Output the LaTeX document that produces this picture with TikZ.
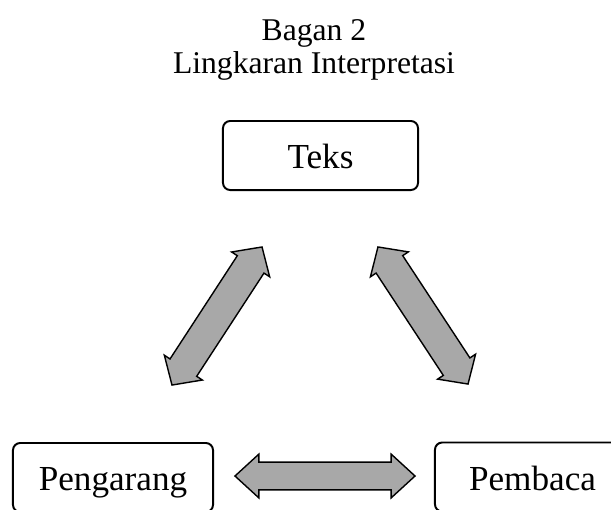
\documentclass[tikz,border=0pt]{standalone}
\usepackage{fontspec}
\setmainfont{Liberation Serif}
\usepackage{xcolor}
\usepackage{tikz}
\usetikzlibrary{shapes.arrows}

\definecolor{arrowgray}{RGB}{168,168,168}

\begin{document}
\begin{tikzpicture}[
  x=0.025cm, y=-0.025cm,
  judul/.style={anchor=base, font=\fontsize{22.5}{27}\selectfont},
  kotak/.style={draw, line width=1.4pt, rounded corners=0.18cm,
    minimum height=1.725cm, text height=19pt, text depth=0pt,
    font=\fontsize{25}{30}\selectfont},
  panah/.style={double arrow, draw, fill=arrowgray, line width=1pt,
    inner xsep=0pt, inner ysep=0.33cm, double arrow head extend=0.2cm,
    double arrow tip angle=85},
  panah miring/.style={panah, inner ysep=0.38cm, double arrow head extend=0.17cm,
    double arrow tip angle=95}
]
\useasboundingbox (0,0) rectangle (611,509);
\clip (0,0) rectangle (611,509);

% judul
\node[judul] (bagan) at (314,40) {Bagan 2};
\node[judul] (lingkaran) at (314,73) {Lingkaran Interpretasi};

% kotak
\node[kotak, minimum width=4.875cm] (teks) at (320.5,155.5) {Teks};
\node[kotak, minimum width=5cm] (pengarang) at (113,477.5) {Pengarang};
\node[kotak, minimum width=4.875cm] (pembaca) at (532.5,477) {Pembaca};

% panah
\node[panah miring, minimum height=4.12cm, rotate=56.9] (kiri) at (217,316) {};
\node[panah miring, minimum height=4.10cm, rotate=-56.7] (kanan) at (423,315.5) {};
\node[panah, minimum height=4.5cm] (bawah) at (325,476) {};
\end{tikzpicture}
\end{document}
